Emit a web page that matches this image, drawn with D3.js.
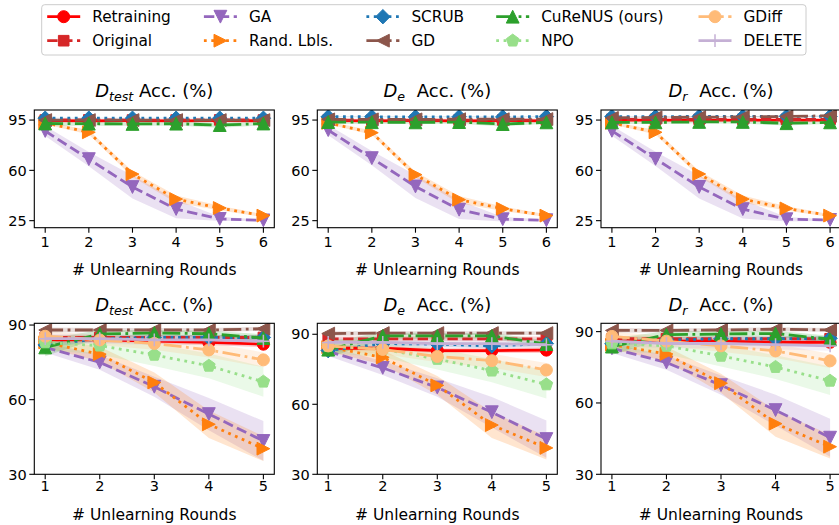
<!DOCTYPE html>
<html>
<head>
<meta charset="utf-8">
<script src="https://cdn.jsdelivr.net/npm/d3@7"></script>
<style>
body { margin: 0; background: #fff; }
text { font-family: "DejaVu Sans", sans-serif; fill: #000; }
</style>
</head>
<body>
<svg id="chart" width="839" height="525"></svg>
<script>
const methods = ["Retraining", "Original", "GA", "Rand. Lbls.", "SCRUB", "GD", "CuReNUS (ours)", "NPO", "GDiff", "DELETE"];
const colors = ["#ff0000", "#d62728", "#9467bd", "#ff7f0e", "#1f77b4", "#8c564b", "#2ca02c", "#98df8a", "#ffbb78", "#c5b0d5"];
const markers = ["o", "s", "v", ">", "D", "<", "^", "p", "o", "+"];
const lineStyles = ["solid", "dashed", "dashed", "dotted", "dotted", "dashdot", "dashdot", "dotted", "dashdot", "solid"];

const roundsTop = [1, 2, 3, 4, 5, 6];
const roundsBottom = [1, 2, 3, 4, 5];
const yTicksTop = [25, 60, 95];
const yTicksBottom = [30, 60, 90];
const subscripts = ["test", "e", "r"];

// top row only has the first 7 methods
const topMethods = [0, 1, 2, 3, 4, 5, 6];
const bottomMethods = [0, 1, 2, 3, 4, 5, 6, 7, 8, 9];

const topTestMean = [
  [94.6, 94.5, 94.6, 94.5, 94.6, 94.5],
  [95.0, 95.1, 95.0, 95.0, 95.1, 95.0],
  [87.4, 67.8, 48.4, 33.1, 26.2, 25.2],
  [93.0, 86.5, 57.4, 40.0, 33.8, 28.5],
  [96.3, 96.3, 96.3, 96.3, 96.3, 96.3],
  [95.0, 95.0, 95.0, 95.0, 95.0, 95.0],
  [92.6, 92.5, 92.3, 92.5, 91.5, 92.6]
];
const topTestStd = [
  [0.3, 0.3, 0.3, 0.3, 0.3, 0.3],
  [0.3, 0.3, 0.3, 0.3, 0.3, 0.3],
  [3.5, 5.0, 8.0, 6.5, 1.5, 0.5],
  [1.0, 1.5, 2.0, 2.5, 1.5, 1.0],
  [0.3, 0.3, 0.3, 0.3, 0.3, 0.3],
  [0.4, 0.4, 0.4, 0.4, 0.4, 0.4],
  [1.5, 1.5, 1.2, 1.3, 1.8, 1.2]
];
const topEMean = [
  [94.6, 94.5, 94.6, 94.5, 94.6, 94.5],
  [95.0, 95.0, 95.0, 95.0, 95.0, 95.0],
  [88.0, 68.5, 48.8, 32.6, 26.0, 25.3],
  [93.0, 86.2, 57.0, 39.6, 33.3, 28.5],
  [97.3, 97.3, 97.2, 97.3, 97.2, 97.4],
  [95.5, 95.5, 95.5, 95.6, 95.6, 95.7],
  [93.6, 93.5, 93.4, 93.6, 92.2, 93.4]
];
const topEStd = [
  [0.3, 0.3, 0.3, 0.3, 0.3, 0.3],
  [0.3, 0.3, 0.3, 0.3, 0.3, 0.3],
  [3.5, 5.0, 8.0, 6.5, 1.5, 0.5],
  [1.0, 1.5, 2.0, 2.5, 1.5, 1.0],
  [0.3, 0.3, 0.3, 0.3, 0.3, 0.3],
  [0.4, 0.4, 0.4, 0.4, 0.4, 0.4],
  [1.2, 1.2, 1.0, 1.2, 1.6, 1.0]
];
const topRMean = [
  [95.0, 95.0, 95.0, 95.0, 95.0, 95.0],
  [95.5, 95.5, 95.5, 95.5, 95.5, 95.5],
  [87.5, 68.0, 48.5, 33.0, 26.0, 25.5],
  [93.0, 86.5, 57.5, 40.0, 33.5, 28.5],
  [97.4, 97.4, 97.5, 97.5, 97.6, 97.6],
  [96.5, 96.8, 97.0, 97.2, 97.5, 98.0],
  [93.4, 93.4, 93.7, 93.7, 92.8, 93.4]
];
const topRStd = [
  [0.3, 0.3, 0.3, 0.3, 0.3, 0.3],
  [0.3, 0.3, 0.3, 0.3, 0.3, 0.3],
  [3.5, 5.0, 8.0, 6.5, 1.5, 0.5],
  [1.0, 1.5, 2.0, 2.5, 1.5, 1.0],
  [0.3, 0.3, 0.3, 0.3, 0.3, 0.3],
  [0.4, 0.4, 0.4, 0.4, 0.4, 0.4],
  [1.2, 1.2, 1.0, 1.2, 1.6, 1.0]
];

const bottomTestMean = [
  [84.0, 84.0, 83.5, 83.0, 82.3],
  [85.0, 85.0, 85.0, 85.0, 85.0],
  [81.0, 75.0, 65.2, 54.2, 43.4],
  [83.0, 78.3, 66.9, 50.1, 40.3],
  [82.0, 84.5, 85.0, 85.0, 85.0],
  [88.0, 88.0, 88.0, 88.0, 88.5],
  [81.0, 86.4, 86.8, 86.5, 84.8],
  [83.0, 81.7, 78.0, 73.6, 67.2],
  [85.5, 84.0, 82.6, 80.0, 76.0],
  [84.5, 84.5, 84.0, 84.0, 83.5]
];
const bottomTestStd = [
  [1.0, 1.0, 1.0, 1.0, 1.2],
  [1.0, 1.0, 1.0, 1.0, 1.0],
  [2.0, 3.0, 4.0, 6.5, 8.0],
  [2.0, 3.0, 4.0, 5.5, 5.0],
  [1.0, 1.0, 1.0, 1.0, 1.0],
  [1.0, 0.8, 0.8, 0.8, 0.8],
  [3.5, 1.5, 1.2, 1.2, 1.5],
  [3.0, 3.5, 4.5, 5.0, 6.0],
  [2.0, 2.0, 2.5, 3.0, 3.0],
  [2.0, 2.0, 2.0, 2.0, 2.0]
];
const bottomEMean = [
  [84.0, 84.0, 83.0, 83.0, 83.2],
  [88.0, 88.0, 88.0, 88.0, 88.0],
  [82.7, 75.6, 67.2, 56.6, 45.1],
  [84.5, 80.1, 68.1, 51.1, 41.3],
  [83.0, 86.0, 85.8, 85.0, 86.0],
  [90.3, 90.5, 90.5, 90.5, 90.5],
  [83.4, 89.3, 89.3, 89.3, 85.8],
  [85.0, 83.6, 79.4, 74.4, 68.5],
  [85.0, 83.5, 80.5, 78.7, 74.7],
  [86.5, 86.5, 86.0, 86.0, 85.5]
];
const bottomEStd = bottomTestStd;
const bottomRMean = [
  [86.0, 86.0, 86.0, 85.5, 85.5],
  [87.0, 87.0, 87.0, 87.0, 87.0],
  [83.0, 77.0, 67.5, 57.0, 45.4],
  [84.5, 80.6, 68.3, 51.3, 41.6],
  [85.0, 86.5, 87.0, 87.0, 87.2],
  [90.5, 90.5, 90.7, 91.0, 90.7],
  [83.7, 88.7, 89.0, 89.2, 86.8],
  [85.0, 84.0, 79.8, 75.1, 69.3],
  [88.0, 86.0, 84.0, 81.9, 77.7],
  [86.0, 85.0, 85.0, 84.5, 84.0]
];
const bottomRStd = bottomTestStd;

const svg = d3.select("#chart");
const lw = 2.8;
const dashes = { solid: null, dashed: "10.4,4.5", dotted: "2.8,4.6", dashdot: "17.9,4.5,2.8,4.5" };

const panelLeft = [34.3, 317.3, 601];
const panelW = 240;

let panels = [];
subscripts.forEach(function(sub, i) {
  panels.push({ sub: sub, left: panelLeft[i], top: 110, bottom: 227.7, rounds: roundsTop,
    yDomain: [20.1, 102], ticks: yTicksTop, ids: topMethods,
    mean: [topTestMean, topEMean, topRMean][i], std: [topTestStd, topEStd, topRStd][i],
    titleY: 97, tickY: 247, labelY: 275 });
});
const bottomTops = [90.7, 94.7, 93.5];
subscripts.forEach(function(sub, i) {
  panels.push({ sub: sub, left: panelLeft[i], top: 323.3, bottom: 474.3, rounds: roundsBottom,
    yDomain: [30, bottomTops[i]], ticks: yTicksBottom, ids: bottomMethods,
    mean: [bottomTestMean, bottomEMean, bottomRMean][i], std: [bottomTestStd, bottomEStd, bottomRStd][i],
    titleY: 311, tickY: 491, labelY: 520 });
});

function markerPath(m) {
  let h;
  switch (m) {
    case "o": h = 6; return `M${h},0A${h},${h} 0 1,1 ${-h},0A${h},${h} 0 1,1 ${h},0Z`;
    case "s": h = 5.3; return `M${-h},${-h}H${h}V${h}H${-h}Z`;
    case "v": h = 6.4; return `M0,${h}L${-h},${-h}L${h},${-h}Z`;
    case "^": h = 6.4; return `M0,${-h}L${-h},${h}L${h},${h}Z`;
    case ">": h = 6.4; return `M${h},0L${-h},${-h}L${-h},${h}Z`;
    case "<": h = 6.4; return `M${-h},0L${h},${-h}L${h},${h}Z`;
    case "D": h = 7.2; return `M0,${-h}L${h},0L0,${h}L${-h},0Z`;
    case "p":
      h = 6.6;
      return "M" + d3.range(5).map(k => {
        let a = -Math.PI / 2 + k * 2 * Math.PI / 5;
        return [h * Math.cos(a), h * Math.sin(a)].join(",");
      }).join("L") + "Z";
    case "+": h = 6.4; return `M0,${-h}V${h}M${-h},0H${h}`;
  }
}

function drawMarker(g, id, x, y) {
  let m = markers[id];
  let p = g.append("path")
    .attr("d", markerPath(m))
    .attr("transform", `translate(${x},${y})`);
  if (m === "+") {
    p.attr("fill", "none").attr("stroke", colors[id]).attr("stroke-width", 1.5);
  } else {
    p.attr("fill", colors[id]).attr("stroke", colors[id]).attr("stroke-width", 1);
  }
}

panels.forEach(function(p, pi) {
  const x = d3.scaleLinear()
    .domain(p.rounds.length === 6 ? [0.75, 6.25] : [0.8, 5.2])
    .range([p.left, p.left + panelW]);
  const y = d3.scaleLinear().domain(p.yDomain).range([p.bottom, p.top]);

  const clipId = "clip" + pi;
  svg.append("clipPath").attr("id", clipId)
    .append("rect")
    .attr("x", p.left).attr("y", p.top)
    .attr("width", panelW).attr("height", p.bottom - p.top);

  const g = svg.append("g").attr("clip-path", `url(#${clipId})`);

  // std bands
  p.ids.forEach(function(id, k) {
    const pts = p.rounds.map((r, j) => ({ r: r, lo: p.mean[k][j] - p.std[k][j], hi: p.mean[k][j] + p.std[k][j] }));
    g.append("path")
      .datum(pts)
      .attr("fill", colors[id])
      .attr("fill-opacity", 0.2)
      .attr("d", d3.area().x(d => x(d.r)).y0(d => y(d.lo)).y1(d => y(d.hi)));
  });

  // lines + markers
  p.ids.forEach(function(id, k) {
    const pts = p.rounds.map((r, j) => ({ r: r, v: p.mean[k][j] }));
    g.append("path")
      .datum(pts)
      .attr("fill", "none")
      .attr("stroke", colors[id])
      .attr("stroke-width", lw)
      .attr("stroke-linejoin", "round")
      .attr("stroke-dasharray", dashes[lineStyles[id]])
      .attr("d", d3.line().x(d => x(d.r)).y(d => y(d.v)));
    pts.forEach(d => drawMarker(g, id, x(d.r), y(d.v)));
  });

  // frame
  svg.append("rect")
    .attr("x", p.left).attr("y", p.top)
    .attr("width", panelW).attr("height", p.bottom - p.top)
    .attr("fill", "none").attr("stroke", "#000").attr("stroke-width", 1.1);

  // x ticks
  p.rounds.forEach(function(r) {
    svg.append("line")
      .attr("x1", x(r)).attr("x2", x(r))
      .attr("y1", p.bottom).attr("y2", p.bottom + 5)
      .attr("stroke", "#000").attr("stroke-width", 1.1);
    svg.append("text")
      .attr("x", x(r)).attr("y", p.tickY)
      .attr("text-anchor", "middle")
      .attr("font-size", 14.5)
      .text(r);
  });

  // y ticks
  p.ticks.forEach(function(t) {
    svg.append("line")
      .attr("x1", p.left - 5).attr("x2", p.left)
      .attr("y1", y(t)).attr("y2", y(t))
      .attr("stroke", "#000").attr("stroke-width", 1.1);
    svg.append("text")
      .attr("x", p.left - 7.5).attr("y", y(t))
      .attr("dy", "0.36em")
      .attr("text-anchor", "end")
      .attr("font-size", 14.5)
      .text(t);
  });

  // x label
  svg.append("text")
    .attr("x", p.left + panelW / 2).attr("y", p.labelY)
    .attr("text-anchor", "middle")
    .attr("font-size", 15.5)
    .text("# Unlearning Rounds");

  // title
  const title = svg.append("text")
    .attr("x", p.left + panelW / 2).attr("y", p.titleY)
    .attr("text-anchor", "middle")
    .attr("font-size", 18);
  title.append("tspan").attr("font-style", "italic").text("D");
  title.append("tspan").attr("font-style", "italic").attr("font-size", 12.6).attr("dy", 4).text(p.sub);
  title.append("tspan").attr("dy", -4).attr("dx", p.sub === "test" ? 0 : 6).text(" Acc. (%)");
});

// legend
const legend = svg.append("g");
legend.append("rect")
  .attr("x", 41.7).attr("y", 4.7)
  .attr("width", 764.3).attr("height", 50.3)
  .attr("rx", 3)
  .attr("fill", "#fff").attr("fill-opacity", 0.8)
  .attr("stroke", "#cccccc").attr("stroke-width", 1);

const legendCols = [47.2, 203.9, 366.4, 496.2, 698.5];
const legendRows = [16.7, 40.7];
methods.forEach(function(name, id) {
  const col = Math.floor(id / 2), row = id % 2;
  const lx = legendCols[col], ly = legendRows[row];
  legend.append("line")
    .attr("x1", lx).attr("x2", lx + 33)
    .attr("y1", ly).attr("y2", ly)
    .attr("stroke", colors[id])
    .attr("stroke-width", lw)
    .attr("stroke-dasharray", dashes[lineStyles[id]]);
  drawMarker(legend, id, lx + 16.5, ly);
  legend.append("text")
    .attr("x", lx + 45).attr("y", ly)
    .attr("dy", "0.36em")
    .attr("font-size", 15.3)
    .text(name);
});
</script>
</body>
</html>
